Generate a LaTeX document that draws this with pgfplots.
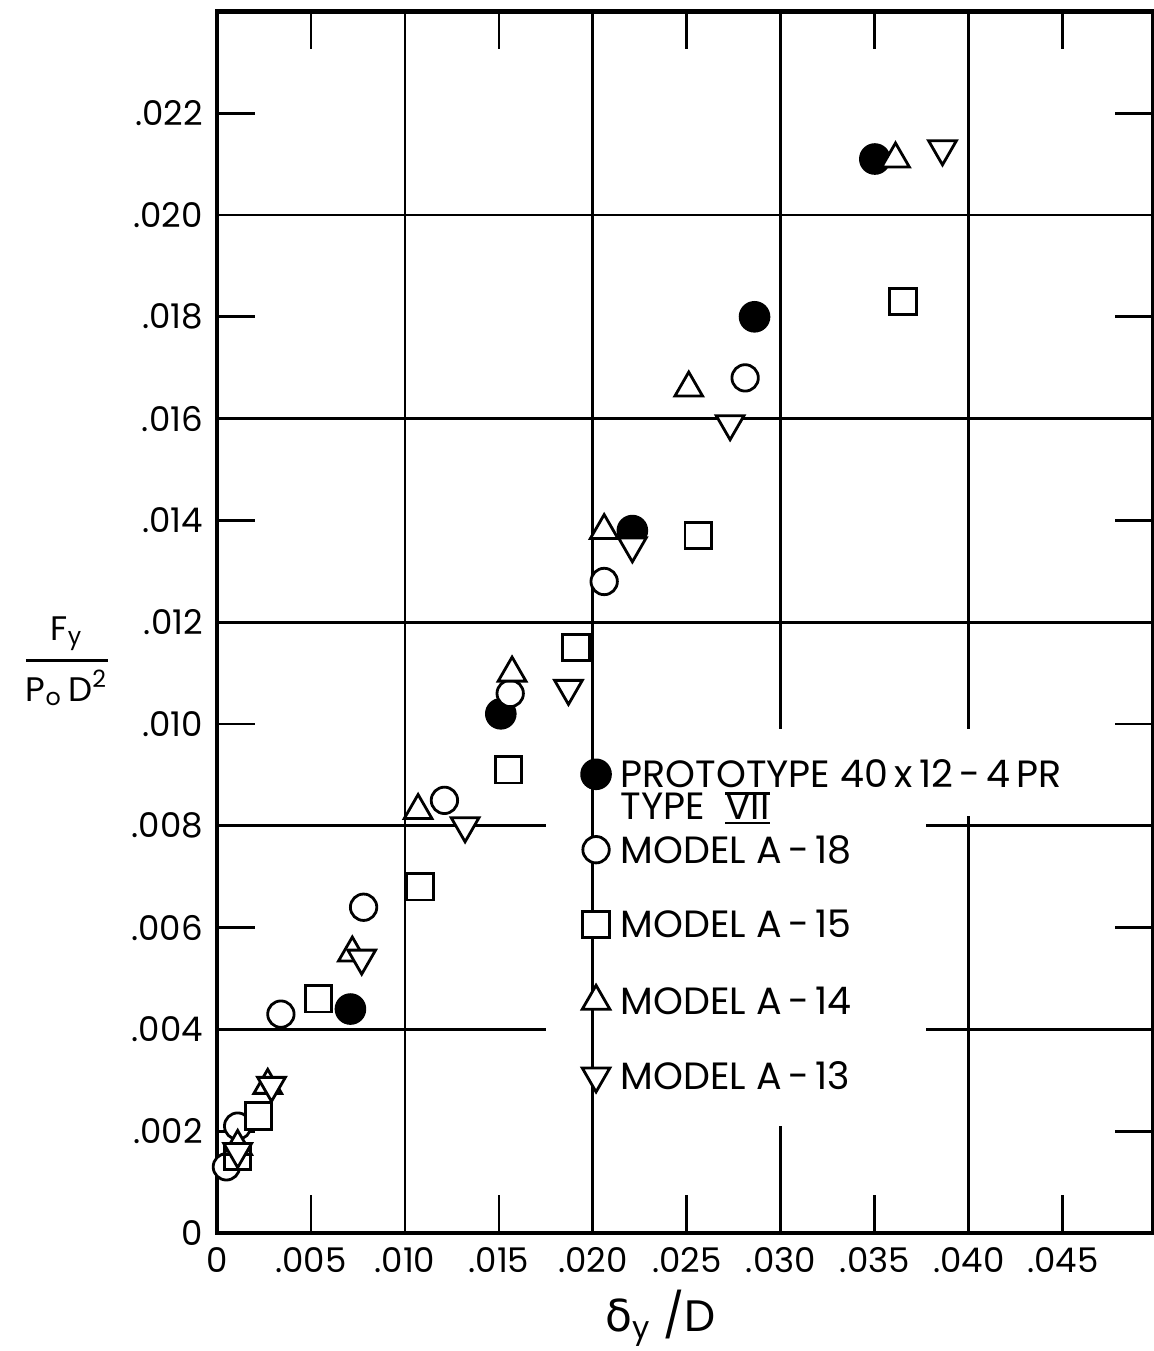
\documentclass[border=0pt]{standalone}
\usepackage{pgfplots}
\pgfplotsset{compat=1.18}
\usepackage{amsmath}
\usepackage{fontspec}
\setmainfont{Poppins}
\newfontfamily\dejavu{DejaVu Sans}
\newsavebox\romanbox
\newcommand{\romanVII}{\sbox\romanbox{VII}\rlap{\rule[\dimexpr\ht\romanbox-0.45pt\relax]{\wd\romanbox}{0.6pt}}\rlap{\rule[-1.1pt]{\wd\romanbox}{0.6pt}}\usebox\romanbox}

\begin{document}
\begin{tikzpicture}
\begin{axis}[
  width=234pt, height=305.4pt, scale only axis,
  xmin=0, xmax=0.0498, ymin=0, ymax=0.024,
  clip=false,
  scaled x ticks=false, scaled y ticks=false,
  axis line style={line width=1.1pt},
  tick align=inside,
  xtick pos=both, ytick pos=both,
  xticklabel pos=lower, yticklabel pos=left,
  xtick={0,0.005,0.010,0.015,0.020,0.025,0.030,0.035,0.040,0.045},
  xticklabels={0,.005,.010,.015,.020,.025,.030,.035,.040,.045},
  ytick={0,0.002,0.004,0.006,0.008,0.010,0.012,0.014,0.016,0.018,0.020,0.022},
  yticklabels={0,.002,.004,.006,.008,.010,.012,.014,.016,.018,.020,.022},
  major tick length=9.5pt,
  every tick/.style={black, line width=0.7pt},
  extra x ticks={0.01,0.02,0.03,0.04}, extra x tick labels={},
  extra y ticks={0.004,0.008,0.012,0.016,0.020}, extra y tick labels={},
  extra tick style={grid=major},
  major grid style={black, line width=0.7pt},
  tick label style={font=\fontsize{8.5}{10}\selectfont},
  legend cell align=left,
  legend image code/.code={\draw[#1] plot coordinates {(0pt,0pt)};},
  legend style={at={(axis cs:0.0202,0.0090)}, anchor=north west,
    xshift=-3.95pt, yshift=3.95pt, draw=none, fill=none, inner sep=0pt,
    row sep=11.85pt, column sep=2.55pt,
    nodes={inner sep=0pt, text height=6.8pt, text depth=0pt},
    font=\fontsize{9.5}{11}\selectfont},
]
% erased grid behind the key, as in the original drawing
\fill[white] (axis cs:0.0175,0.0082) rectangle (axis cs:0.0495,0.0099);
\fill[white] (axis cs:0.0175,0.0021) rectangle (axis cs:0.0377,0.0082);
\draw[black, line width=0.7pt] (axis cs:0.020,0.0020) -- (axis cs:0.020,0.0100);

\addplot[only marks, black, mark=*, mark size=3.6pt, mark options={fill=black, line width=0.7pt}]
  coordinates {(0.0071,0.0044) (0.0151,0.0102) (0.0221,0.0138) (0.0286,0.0180) (0.0350,0.0211)};
\addlegendentry{\smash{\rlap{\raisebox{-7.9pt}{TYPE \ \romanVII}}}PROTOTYPE 40\,x\,12\,-\,4\,PR}

\addplot[only marks, black, mark=*, mark size=3.3pt, mark options={fill=white, line width=0.7pt}]
  coordinates {(0.0005,0.0013) (0.0011,0.0021) (0.0034,0.0043) (0.0078,0.0064) (0.0121,0.0085) (0.0156,0.0106) (0.0206,0.0128) (0.0281,0.0168)};
\addlegendentry{MODEL A\,-\,18}

\addplot[only marks, black, mark=square*, mark size=3.3pt, mark options={fill=white, line width=0.7pt}]
  coordinates {(0.0011,0.0015) (0.0022,0.0023) (0.0054,0.0046) (0.0108,0.0068) (0.0155,0.0091) (0.0191,0.0115) (0.0256,0.0137) (0.0365,0.0183)};
\addlegendentry{MODEL A\,-\,15}

\addplot[only marks, black, mark=triangle*, mark size=4pt, mark options={fill=white, line width=0.7pt}]
  coordinates {(0.0011,0.0017) (0.0027,0.0029) (0.0072,0.0055) (0.0107,0.0083) (0.0157,0.0110) (0.0206,0.0138) (0.0251,0.0166) (0.0361,0.0211)};
\addlegendentry{MODEL A\,-\,14}

\addplot[only marks, black, mark=triangle*, mark size=4pt, mark options={fill=white, line width=0.7pt, rotate=180}]
  coordinates {(0.0011,0.0016) (0.0029,0.0029) (0.0077,0.0054) (0.0132,0.0080) (0.0187,0.0107) (0.0221,0.0135) (0.0273,0.0159) (0.0386,0.0213)};
\addlegendentry{MODEL A\,-\,13}

\node[font=\fontsize{8.5}{10}\selectfont] at (axis description cs:0,0.468) [xshift=-37.5pt]
  {$\genfrac{}{}{0.7pt}{0}{\text{F}_{\text{y}}}{\text{P}_{\text{o}}\,\text{D}^{\text{2}}}$};
\node[font=\fontsize{11}{13}\selectfont] at (axis description cs:0.474,0) [yshift=-21.25pt]
  {{\dejavu δ}\textsubscript{y} /D};
\end{axis}
\pgfresetboundingbox
\path[use as bounding box] ([xshift=-54.25pt,yshift=-29.5pt]current axis.south west) rectangle ([xshift=0.2pt,yshift=2.85pt]current axis.north east);
\end{tikzpicture}
\end{document}
